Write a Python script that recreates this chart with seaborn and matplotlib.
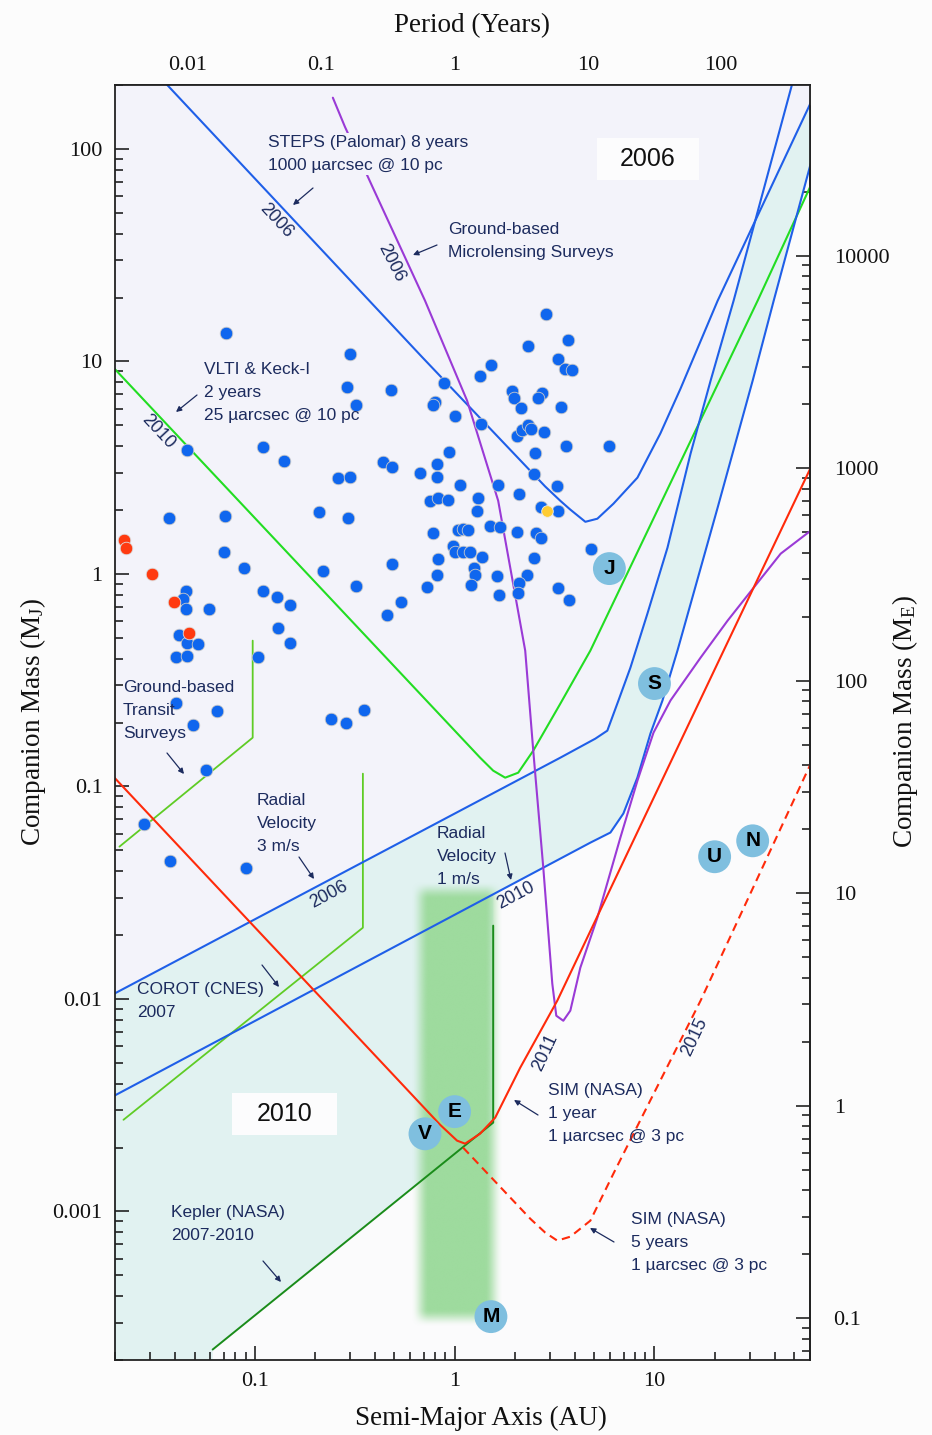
import numpy as np
import matplotlib
matplotlib.use('Agg')
import matplotlib.pyplot as plt
import seaborn as sns
import pandas as pd
from matplotlib.ticker import FuncFormatter, NullFormatter, FixedLocator
from matplotlib.patches import Rectangle
from matplotlib.colors import to_rgb

# ---------------- data (semi-major axis in AU, mass in Jupiter masses) ----------------
blue_a = [0.0716, 0.2995, 0.289, 0.3208, 0.4805, 0.0461, 0.1097, 0.1398, 0.2606, 0.2995,
          0.438, 0.486, 0.0371, 0.0707, 0.2093, 0.2925, 0.0699, 0.0881, 0.2193, 0.486,
          0.3208, 0.1097, 0.129, 0.1498, 0.0588, 0.0451, 0.0436, 0.0451, 0.4588, 0.5393,
          0.1304, 0.1498, 0.0416, 0.0461, 0.0518, 0.0402, 0.0461, 0.1035, 0.0406, 0.0645,
          0.0489, 0.2404, 0.2858, 0.352, 0.0568, 0.0278, 0.0379, 0.0901,
          1.524, 1.342, 0.886, 3.303, 3.58, 3.88, 1.942, 1.987, 2.746, 2.621,
          2.154, 3.42, 0.798, 0.78, 1.006, 1.358, 2.057, 2.18, 2.336, 2.418,
          2.81, 3.62, 0.938, 0.817, 0.672, 0.817, 2.532, 2.503, 1.066, 1.652,
          3.265, 2.105, 0.754, 0.827, 0.928, 1.311, 1.297, 2.714, 3.303, 0.78,
          1.041, 1.103, 1.169, 1.506, 1.691, 2.057, 2.562, 2.714, 0.983, 1.006,
          1.103, 1.196, 1.373, 0.827, 2.503, 1.252, 1.267, 0.817, 1.633, 2.309,
          0.728, 1.21, 2.105, 2.081, 1.672, 3.303, 3.75, 2.874, 2.336, 3.707,
          5.95, 4.834]
blue_m = [13.66, 10.88, 7.61, 6.26, 7.37, 3.85, 3.97, 3.41, 2.84, 2.87,
          3.38, 3.20, 1.84, 1.88, 1.965, 1.84, 1.273, 1.07, 1.036, 1.118,
          0.881, 0.834, 0.782, 0.717, 0.687, 0.834, 0.765, 0.687, 0.6435, 0.741,
          0.559, 0.475, 0.518, 0.475, 0.47, 0.408, 0.4125, 0.408, 0.248, 0.2274,
          0.1953, 0.2085, 0.1996, 0.2299, 0.12, 0.0668, 0.0448, 0.0415,
          9.66, 8.58, 7.95, 10.31, 9.25, 9.15, 7.29, 6.75, 7.13, 6.75,
          6.06, 6.13, 6.47, 6.26, 5.56, 5.10, 4.48, 4.78, 5.04, 4.83,
          4.67, 4.02, 3.76, 3.30, 3.00, 2.87, 3.72, 2.965, 2.63, 2.63,
          2.604, 2.387, 2.213, 2.286, 2.237, 2.286, 1.986, 2.073, 1.986, 1.564,
          1.616, 1.634, 1.616, 1.688, 1.670, 1.581, 1.564, 1.482, 1.359, 1.273,
          1.273, 1.273, 1.206, 1.18, 1.193, 1.07, 0.992, 0.992, 0.982, 0.992,
          0.871, 0.890, 0.910, 0.817, 0.799, 0.862, 0.757, 16.79, 11.87, 12.66,
          4.02, 1.315]

red_a = [0.0223, 0.0228, 0.0305, 0.0393, 0.0467]
red_m = [1.45, 1.33, 1.003, 0.741, 0.529]
yellow_a = [2.909]
yellow_m = [1.986]

planet_names = ['J', 'S', 'U', 'N', 'V', 'E', 'M']
planet_a = [5.95, 10.0, 20.0, 31.0, 0.711, 1.0, 1.52]
planet_m = [1.06, 0.305, 0.0467, 0.0555, 0.00232, 0.00295, 0.00032]

steps_a = [0.03, 0.0367, 0.687, 2.84, 3.38, 3.79, 4.51, 5.18, 6.23, 8.22, 10.7, 13.5, 20.7, 60.5]
steps_m = [243, 199, 10.5, 2.58, 2.21, 2.01, 1.76, 1.82, 2.14, 2.84, 4.58, 7.45, 19.3, 165]

rv06_a = [0.0195, 3.38, 5.06, 5.81, 6.60, 7.58, 9.22, 11.62, 15.15, 19.09, 24.89, 48.6, 52]
rv06_m = [0.0105, 0.1366, 0.1679, 0.1831, 0.2534, 0.3623, 0.6506, 1.33, 3.68, 8.12, 19.33, 198.6, 253]

rv10_a = [0.0195, 4.777, 6.02, 6.99, 8.22, 9.55, 10.97, 13.04, 20.7, 30.99, 39.5, 60.5]
rv10_m = [0.003475, 0.0544, 0.0607, 0.0746, 0.1103, 0.1776, 0.254, 0.4365, 2.051, 8.12, 19.33, 85.3]

vlti_a = [0.0195, 1.342, 1.56, 1.791, 2.081, 2.475, 3.38, 4.777, 32.83, 60.5]
vlti_m = [9.43, 0.1366, 0.1187, 0.11, 0.1161, 0.1474, 0.2452, 0.4356, 19.33, 67.2]

transit_a = [0.02105, 0.0977, 0.0977]
transit_m = [0.0521, 0.1697, 0.4855]
corot_a = [0.02205, 0.3477, 0.3477]
corot_m = [0.0027, 0.02165, 0.1149]
kepler_a = [0.0616, 1.56, 1.56]
kepler_m = [0.000224, 0.002618, 0.02213]

sim1_a = [0.0195, 0.846, 1.029, 1.129, 1.342, 1.596, 2.13, 3.265, 22.18, 60.5]
sim1_m = [0.1121, 0.00256, 0.002154, 0.002085, 0.002323, 0.002763, 0.00475, 0.00982, 0.4356, 3.164]

sim5_a = [1.103, 2.39, 2.842, 3.265, 3.793, 4.777, 6.23, 17.01, 60.5]
sim5_m = [0.001997, 0.000925, 0.000795, 0.000729, 0.000761, 0.000905, 0.001506, 0.00982, 0.128]

micro_a = [0.246, 0.2826, 0.3859, 0.7112, 1.155, 1.652, 2.256, 2.475, 2.778, 3.082, 3.227, 3.499,
           3.793, 4.257, 5.18, 6.75, 8.22, 9.89, 12.03, 17.01, 23.22, 31.35, 42.8, 60.5]
micro_m = [174.3, 127.3, 67.2, 19.33, 6.54, 2.213, 0.4356, 0.1474, 0.0415, 0.0118, 0.00834, 0.0079,
           0.00881, 0.01404, 0.02413, 0.0574, 0.1065, 0.1792, 0.254, 0.4038, 0.603, 0.862, 1.246, 1.599]

hz_a = [0.67, 1.56]
hz_m = [0.000316, 0.0323]

x_major = [0.1, 1, 10]
y_major = [0.001, 0.01, 0.1, 1, 10, 100]
period_major = [0.01, 0.1, 1, 10, 100]
earth_major = [0.1, 1, 10, 100, 1000, 10000]
MJ_TO_ME = 317.8

# ---------------- style ----------------
sns.set_theme(style='white')
plt.rcParams['font.family'] = ['Liberation Sans', 'DejaVu Sans']
plt.rcParams['mathtext.default'] = 'regular'
SERIF = ['Liberation Serif', 'DejaVu Serif']

BLUE = '#1f5fe8'
GREEN = '#22dd22'
LIME = '#5fcc25'
DKGREEN = '#1a8c1a'
RED = '#ff2a0a'
PURPLE = '#9a3ad6'
NAVY = '#1c2b5e'
TEAL = '#e1f2f1'
LAV = '#f3f3fa'
DOT = '#0f66ee'

W, H = 932, 1435
fig = plt.figure(figsize=(W / 100, H / 100), dpi=100, facecolor='#fcfcfc')
ax = fig.add_axes([115 / W, 1 - 1360 / H, 695 / W, 1275 / H])
ax.set_xscale('log')
ax.set_yscale('log')
XL, YL = (0.02, 60), (2e-4, 200)
ax.set_xlim(*XL)
ax.set_ylim(*YL)
ax.set_facecolor('#fbfbfc')

# ---------------- shaded regions ----------------
grid = np.logspace(np.log10(XL[0]), np.log10(XL[1]), 4000)


def curve_at(x, xs, ys, left=1e6, right=1e6):
    return 10 ** np.interp(np.log10(x), np.log10(xs), np.log10(ys),
                           left=np.log10(left), right=np.log10(right))


up06 = np.minimum(curve_at(grid, steps_a, steps_m), curve_at(grid, rv06_a, rv06_m))
kep = curve_at(grid, kepler_a[:2], kepler_m[:2], left=1e-6)
rv10 = curve_at(grid, rv10_a, rv10_m, left=1e-6)
low10 = np.where(grid <= kepler_a[1], kep, rv10)
low10 = np.minimum(low10, up06)
ax.fill_between(grid, low10, up06, color=TEAL, lw=0, zorder=0.5)
ax.fill_between(grid, up06, 1e4, color=LAV, lw=0, zorder=0.5)

# habitable-zone band with soft edges
lx0, lx1 = np.log10(XL[0]), np.log10(XL[1])
ly0, ly1 = np.log10(YL[0]), np.log10(YL[1])
bx0 = (np.log10(hz_a[0]) - lx0) / (lx1 - lx0)
bx1 = (np.log10(hz_a[1]) - lx0) / (lx1 - lx0)
by0 = (np.log10(hz_m[0]) - ly0) / (ly1 - ly0)
by1 = (np.log10(hz_m[1]) - ly0) / (ly1 - ly0)
mx, my = 9 / 695, 9 / 1275
nx, ny = 240, 700
xs = np.linspace(bx0 - mx, bx1 + mx, nx)
ys = np.linspace(by0 - my, by1 + my, ny)


def ramp(v, lo, hi, w):
    t1 = np.clip((v - (lo - w)) / (2 * w), 0, 1)
    t2 = np.clip(((hi + w) - v) / (2 * w), 0, 1)
    s = lambda t: t * t * (3 - 2 * t)
    return s(t1) * s(t2)


alpha = ramp(xs, bx0, bx1, mx)[None, :] * ramp(ys, by0, by1, my)[:, None]
img = np.zeros((ny, nx, 4))
img[..., :3] = to_rgb('#9edb9e')
img[..., 3] = alpha
ax.imshow(img, extent=[bx0 - mx, bx1 + mx, by0 - my, by1 + my], transform=ax.transAxes,
          origin='lower', aspect='auto', zorder=1, interpolation='bilinear')
ax.set_xlim(*XL)
ax.set_ylim(*YL)

# ---------------- detection curves ----------------
LW = 1.5
ax.plot(transit_a, transit_m, color=LIME, lw=1.3, zorder=2)
ax.plot(corot_a, corot_m, color=LIME, lw=1.3, zorder=2)
ax.plot(kepler_a, kepler_m, color=DKGREEN, lw=1.4, zorder=2)
ax.plot(vlti_a, vlti_m, color=GREEN, lw=LW, zorder=2)
ax.plot(steps_a, steps_m, color=BLUE, lw=LW, zorder=2)
ax.plot(rv06_a, rv06_m, color=BLUE, lw=LW, zorder=2)
ax.plot(rv10_a, rv10_m, color=BLUE, lw=LW, zorder=2)
ax.plot(micro_a, micro_m, color=PURPLE, lw=LW, zorder=2)
ax.plot(sim1_a, sim1_m, color=RED, lw=LW, zorder=2)
ax.plot(sim5_a, sim5_m, color=RED, lw=LW, ls=(0, (4, 2.6)), zorder=2)

# ---------------- planets ----------------
sns.scatterplot(x=blue_a, y=blue_m, s=82, color=DOT, edgecolor='#c9c9c9', linewidth=0.6,
                ax=ax, zorder=3, legend=False)
sns.scatterplot(x=red_a, y=red_m, s=82, color='#ff3a10', edgecolor='#dddddd', linewidth=0.6,
                ax=ax, zorder=3, legend=False)
sns.scatterplot(x=yellow_a, y=yellow_m, s=70, color='#ffcc33', edgecolor='#eeeeee', linewidth=0.6,
                ax=ax, zorder=3.5, legend=False)
sns.scatterplot(x=planet_a, y=planet_m, s=560, color='#7fbfdf', edgecolor='none',
                ax=ax, zorder=4, legend=False)
for a, m, n in zip(planet_a, planet_m, planet_names):
    ax.text(a, m, n, ha='center', va='center', fontsize=15, fontweight='bold',
            color='black', zorder=5)
ax.set_xlim(*XL)
ax.set_ylim(*YL)


# ---------------- axes, ticks ----------------
def minors(lo, hi):
    out = []
    for e in range(int(np.floor(np.log10(lo))) - 1, int(np.ceil(np.log10(hi))) + 1):
        for k in range(2, 10):
            v = k * 10.0 ** e
            if lo <= v <= hi:
                out.append(v)
    return out


fmt = FuncFormatter(lambda v, p: f'{v:g}')
ax.xaxis.set_major_locator(FixedLocator(x_major))
ax.yaxis.set_major_locator(FixedLocator(y_major))
ax.xaxis.set_minor_locator(FixedLocator(minors(*XL)))
ax.yaxis.set_minor_locator(FixedLocator(minors(*YL)))
ax.tick_params(which='both', direction='in', bottom=True, left=True, top=False, right=False,
               color='#222222', width=1.2)
ax.tick_params(which='major', length=10, labelsize=16, labelcolor='#111111')
ax.tick_params(which='minor', length=5.5)
ax.tick_params(axis='x', which='major', pad=9)
ax.tick_params(axis='y', which='major', pad=9)
ax.xaxis.set_major_formatter(fmt)
ax.yaxis.set_major_formatter(fmt)
ax.xaxis.set_minor_formatter(NullFormatter())
ax.yaxis.set_minor_formatter(NullFormatter())
for sp in ax.spines.values():
    sp.set_color('#222222')
    sp.set_linewidth(1.3)
    sp.set_zorder(6)

sec_x = ax.secondary_xaxis('top', functions=(lambda a: np.power(np.clip(a, 1e-12, None), 1.5),
                                             lambda p: np.power(np.clip(p, 1e-12, None), 2 / 3)))
sec_y = ax.secondary_yaxis('right', functions=(lambda m: m * MJ_TO_ME, lambda e: e / MJ_TO_ME))
PL = (XL[0] ** 1.5, XL[1] ** 1.5)
EL = (YL[0] * MJ_TO_ME, YL[1] * MJ_TO_ME)
sec_x.xaxis.set_major_locator(FixedLocator(period_major))
sec_x.xaxis.set_minor_locator(FixedLocator(minors(*PL)))
sec_y.yaxis.set_major_locator(FixedLocator(earth_major))
sec_y.yaxis.set_minor_locator(FixedLocator(minors(*EL)))
for sec, axis in ((sec_x, sec_x.xaxis), (sec_y, sec_y.yaxis)):
    sec.tick_params(which='both', direction='in', color='#222222', width=1.2)
    sec.tick_params(which='major', length=10, labelsize=16, labelcolor='#111111')
    sec.tick_params(which='minor', length=5.5)
    axis.set_major_formatter(fmt)
    axis.set_minor_formatter(NullFormatter())
    for sp in sec.spines.values():
        sp.set_color('#222222')
        sp.set_linewidth(1.3)
sec_x.tick_params(which='major', pad=7)
sec_y.tick_params(which='major', pad=17)
fig.canvas.draw()
for lab in sec_x.get_xticklabels() + sec_y.get_yticklabels() + ax.get_xticklabels() + ax.get_yticklabels():
    lab.set_family(SERIF)

# axis titles
fig.text(481 / W, 1 - 1418 / H, 'Semi-Major Axis (AU)', ha='center', va='center', family=SERIF,
         fontsize=19.5, color='#111111')
fig.text(472 / W, 1 - 26 / H, 'Period (Years)', ha='center', va='center', family=SERIF, fontsize=19.5,
         color='#111111')
fig.text(33 / W, 1 - 722 / H, 'Companion Mass (M$_{J}$)', ha='center', va='center', rotation=90,
         family=SERIF, fontsize=19.5, color='#111111')
fig.text(905 / W, 1 - 722 / H, 'Companion Mass (M$_{E}$)', ha='center', va='center', rotation=90,
         family=SERIF, fontsize=19.5, color='#111111')


# ---------------- annotations ----------------
def fp(x, y):
    return (x, H - y)


def note(x, ytop, s, bbox=None):
    ax.annotate(s, xy=fp(x, ytop), xycoords='figure pixels', ha='left', va='top', fontsize=12.5,
                color=NAVY, linespacing=1.68, zorder=7, annotation_clip=False, bbox=bbox)


def arrow(tail, head):
    ax.annotate('', xy=fp(*head), xytext=fp(*tail), xycoords='figure pixels',
                textcoords='figure pixels', zorder=7, annotation_clip=False,
                arrowprops=dict(arrowstyle='-|>', color=NAVY, lw=0.9, mutation_scale=8,
                                shrinkA=0, shrinkB=0))


def linelabel(x, y, s, rot):
    ax.annotate(s, xy=fp(x, y), xycoords='figure pixels', ha='center', va='center', rotation=rot,
                rotation_mode='anchor', fontsize=13, color=NAVY, zorder=7, annotation_clip=False)


note(268, 135, 'STEPS (Palomar) 8 years\n1000 µarcsec @ 10 pc',
     bbox=dict(facecolor=LAV, edgecolor='none', pad=1.5))
arrow((313, 188), (293, 205))
note(448, 222, 'Ground-based\nMicrolensing Surveys')
arrow((437, 245), (413, 255))
note(204, 362, 'VLTI & Keck-I\n2 years\n25 µarcsec @ 10 pc')
arrow((197, 395), (176, 412))
note(123, 680, 'Ground-based\nTransit\nSurveys')
arrow((167, 753), (184, 774))
note(257, 793, 'Radial\nVelocity\n3 m/s')
arrow((299, 857), (314, 879))
note(437, 826, 'Radial\nVelocity\n1 m/s')
arrow((505, 853), (511, 880))
note(137, 982, 'COROT (CNES)\n2007')
arrow((262, 965), (279, 987))
note(171, 1205, 'Kepler (NASA)\n2007-2010')
arrow((263, 1261), (281, 1282))
note(548, 1083, 'SIM (NASA)\n1 year\n1 µarcsec @ 3 pc')
arrow((538, 1115), (514, 1100))
note(631, 1212, 'SIM (NASA)\n5 years\n1 µarcsec @ 3 pc')
arrow((614, 1242), (590, 1228))

linelabel(276, 221, '2006', -47)
linelabel(391, 263, '2006', -63)
linelabel(158, 432, '2010', -47)
linelabel(329, 895, '2006', 28)
linelabel(516, 896, '2010', 28)
linelabel(545, 1053, '2011', 65)
linelabel(695, 1037, '2015', 65)

# year boxes
for (x0, y0, w, h, s) in ((597, 138, 102, 42, '2006'), (232, 1093, 105, 42, '2010')):
    fig.patches.append(Rectangle((x0 / W, 1 - (y0 + h) / H), w / W, h / H, transform=fig.transFigure,
                                 facecolor='#fcfcfd', edgecolor='none', zorder=8))
    fig.text((x0 + w / 2) / W, 1 - (y0 + h / 2) / H, s, ha='center', va='center', fontsize=18,
             color='#111111', zorder=9)

fig.savefig('out.png', dpi=100, facecolor=fig.get_facecolor())
